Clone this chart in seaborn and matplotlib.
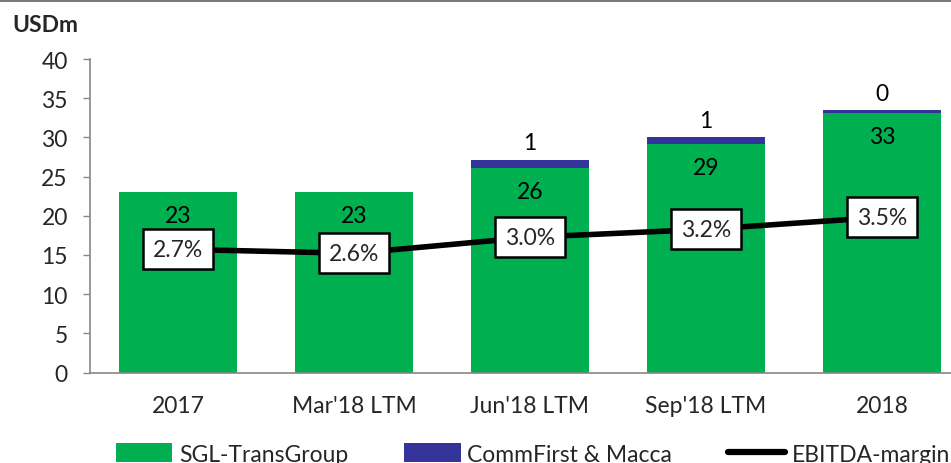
import numpy as np
import matplotlib
matplotlib.use("Agg")
import matplotlib.pyplot as plt
import seaborn as sns
from matplotlib.patches import Patch, Rectangle
from matplotlib.lines import Line2D

# --- DADOS ---
periodos = ["2017", "Mar'18 LTM", "Jun'18 LTM", "Sep'18 LTM", "2018"]
sgl = [23.0, 23.0, 26.1, 29.1, 33.1]          # SGL-TransGroup
commfirst = [0.0, 0.0, 1.0, 0.9, 0.35]        # CommFirst & Macca
margem = [2.7, 2.6, 3.0, 3.2, 3.5]            # EBITDA-margin (%)

VERDE = "#00B050"
AZUL = "#333399"
CINZA = "#868686"
FS = 16.5

sns.set_style("white")
plt.rcParams['font.family'] = ['Lato', 'DejaVu Sans']
plt.rcParams['font.size'] = FS

fig = plt.figure(figsize=(9.51, 4.64), dpi=100)
ax = fig.add_axes([90 / 951, 90.5 / 464, 880 / 951, 313.5 / 464])

total = [g + c for g, c in zip(sgl, commfirst)]
# barras empilhadas: total em azul, SGL por cima em verde
sns.barplot(x=periodos, y=total, color=AZUL, width=0.665, saturation=1, ax=ax,
            linewidth=0, edgecolor='none')
sns.barplot(x=periodos, y=sgl, color=VERDE, width=0.665, saturation=1, ax=ax,
            linewidth=0, edgecolor='none')

ax.set_ylim(0, 40)
ax.set_xlim(-0.5, len(periodos) - 0.5)
ax.set_yticks(range(0, 41, 5))
ax.set_xticks(np.arange(-0.5, len(periodos), 1.0), minor=True)
ax.tick_params(axis='x', which='major', length=0, pad=16, labelsize=FS)
ax.tick_params(axis='x', which='minor', length=6, width=1, color=CINZA, direction='out')
ax.tick_params(axis='y', length=5, width=1, color=CINZA, direction='out', pad=11, labelsize=FS)
ax.tick_params(axis='y', which='minor', left=False)
ax.set_xlabel("")
ax.set_ylabel("")
for lado in ['top', 'right']:
    ax.spines[lado].set_visible(False)
for lado in ['left', 'bottom']:
    ax.spines[lado].set_color(CINZA)
    ax.spines[lado].set_linewidth(1.2)

# rótulos das barras
for i, (g, c) in enumerate(zip(sgl, commfirst)):
    ax.text(i, g - 3.0, f"{g:.0f}", ha='center', va='center', fontsize=FS, color='black')
    if c > 0:
        ax.text(i, g + c + 2.2, f"{c:.0f}", ha='center', va='center', fontsize=FS, color='black')

# linha da margem EBITDA em eixo secundário
ax2 = ax.twinx()
sns.lineplot(x=np.arange(len(periodos)), y=margem, color='black', linewidth=4, ax=ax2,
             legend=False)
ax2.set_ylim(-0.375, 7.45)
ax2.set_xlim(-0.5, len(periodos) - 0.5)
ax2.set_yticks([])
for lado in ax2.spines:
    ax2.spines[lado].set_visible(False)
for i, m in enumerate(margem):
    ax2.text(i, m, f"{m:.1f}%", ha='center', va='center', fontsize=FS, zorder=5,
             bbox=dict(boxstyle='square,pad=0.42', facecolor='white', edgecolor='black',
                       linewidth=1.8))

# título do eixo
fig.text(12 / 951, 1 - 25 / 464, "USDm", fontsize=FS, fontweight='bold', va='center', ha='left')

# faixa cinza no topo
fig.add_artist(Rectangle((0, 1 - 3 / 464), 1, 3 / 464, transform=fig.transFigure,
                         facecolor='#7a7a7a', edgecolor='none'))

# legenda
handles = [Patch(facecolor=VERDE, edgecolor='none'),
           Patch(facecolor=AZUL, edgecolor='none'),
           Line2D([0], [0], color='black', linewidth=4.5, solid_capstyle='round')]
labels = ["SGL-TransGroup", "CommFirst & Macca", "EBITDA-margin"]
fig.legend(handles, labels, loc='center left', bbox_to_anchor=(116 / 951, 1 - 455 / 464),
           ncol=3, frameon=False, fontsize=FS, borderpad=0, borderaxespad=0,
           handlelength=2.45, handleheight=0.9, handletextpad=0.3, columnspacing=2.45)

plt.savefig("out.png", dpi=100)
plt.close()
